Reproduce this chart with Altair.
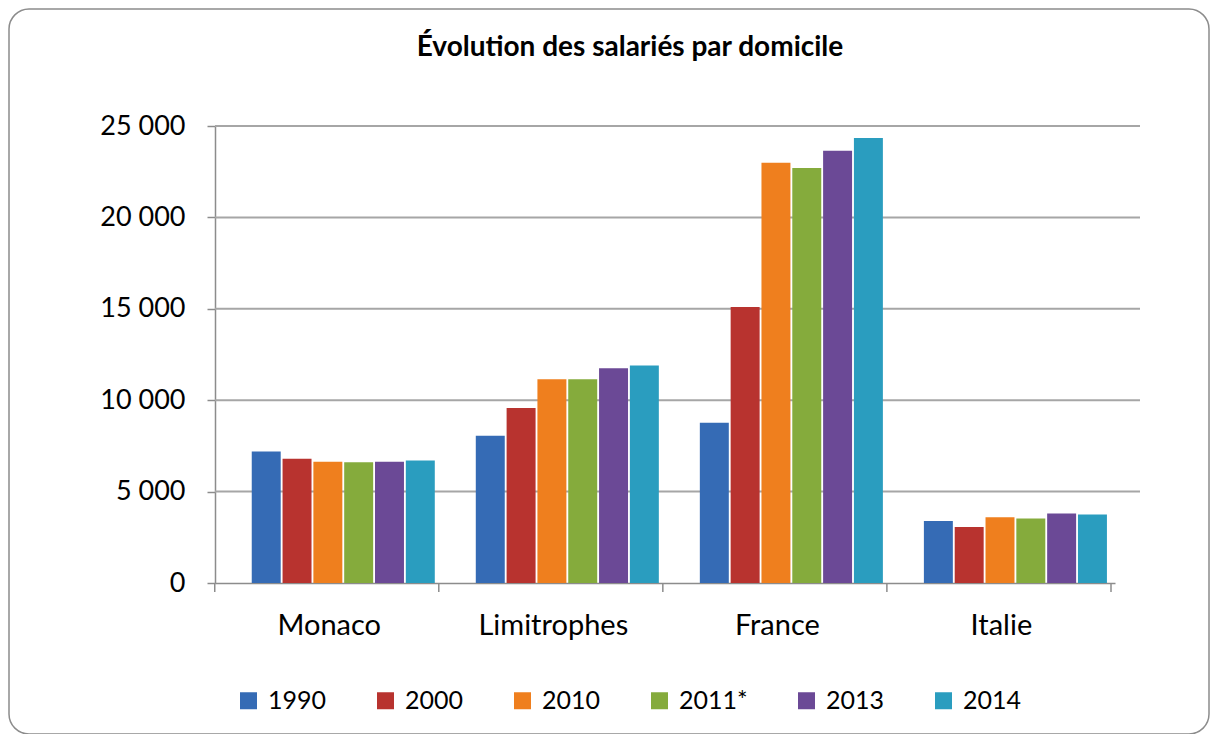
import altair as alt
import pandas as pd

categories = ["Monaco", "Limitrophes", "France", "Italie"]
years = ["1990", "2000", "2010", "2011*", "2013", "2014"]
v1990 = [7200, 8050, 8770, 3390]
v2000 = [6800, 9570, 15100, 3060]
v2010 = [6630, 11140, 22990, 3600]
v2011 = [6600, 11150, 22700, 3530]
v2013 = [6630, 11750, 23640, 3800]
v2014 = [6700, 11900, 24350, 3750]
series = [v1990, v2000, v2010, v2011, v2013, v2014]
colors = ["#356bb5", "#b8332f", "#ef7f1e", "#85ab3c", "#6b4996", "#2a9dbf"]
grid_values = [5000, 10000, 15000, 20000, 25000]
title_text = "Évolution des salariés par domicile"

rows = []
for y, vals in zip(years, series):
    for c, v in zip(categories, vals):
        rows.append({"cat": c, "year": y, "value": v})
df = pd.DataFrame(rows)

W, H = 900, 457
FONT = "Lato"
GRAY = "#8c8c8c"

border = alt.Chart(alt.Data(values=[{}])).mark_rect(
    fill=None, stroke=GRAY, strokeWidth=1.5, cornerRadius=20
).encode(x=alt.value(-206), x2=alt.value(994), y=alt.value(-117), y2=alt.value(608))

title = alt.Chart(alt.Data(values=[{"t": title_text}])).mark_text(
    font=FONT, fontSize=28, fontWeight="bold", color="black", align="center", baseline="alphabetic"
).encode(text="t:N", x=alt.value(415), y=alt.value(-70))

grid = alt.Chart(pd.DataFrame({"g": grid_values})).mark_rule(
    color="#a6a6a6", strokeWidth=2
).encode(y=alt.Y("g:Q", scale=alt.Scale(domain=[0, 25000])), x=alt.value(0), x2=alt.value(925))

bars = alt.Chart(df).mark_bar().encode(
    x=alt.X("cat:N", sort=categories,
            scale=alt.Scale(paddingInner=0.183, paddingOuter=0.1, align=0.82),
            axis=alt.Axis(title=None, labelFontSize=29, labelFont=FONT, labelColor="black",
                          labelAngle=0, ticks=False, labelPadding=28, labelOffset=-14,
                          domainColor=GRAY, domainWidth=1.5)),
    xOffset=alt.XOffset("year:N", sort=years, scale=alt.Scale(paddingInner=0.06)),
    y=alt.Y("value:Q", scale=alt.Scale(domain=[0, 25000]),
            axis=alt.Axis(title=None, values=[0, 5000, 10000, 15000, 20000, 25000], grid=False,
                          labelExpr="replace(format(datum.value, ','), ',', ' ')",
                          labelFontSize=27, labelFont=FONT, labelColor="black",
                          tickSize=8, tickColor=GRAY, tickWidth=1.5,
                          domainColor=GRAY, domainWidth=1.5, labelPadding=22)),
    color=alt.Color("year:N", sort=years, scale=alt.Scale(domain=years, range=colors),
                    legend=alt.Legend(title=None, orient="none", legendX=21, legendY=562,
                                      direction="horizontal", symbolType="square",
                                      symbolSize=289, symbolStrokeWidth=0,
                                      labelFontSize=25, labelFont=FONT, labelColor="black",
                                      columnPadding=46, labelOffset=7)),
)

ticks = alt.Chart(pd.DataFrame({"cat": categories})).mark_rule(
    color=GRAY, strokeWidth=1.5, xOffset=-37
).encode(x=alt.X("cat:N", sort=categories, bandPosition=0), y=alt.value(H), y2=alt.value(H + 9))

end_tick = alt.Chart(alt.Data(values=[{}])).mark_rule(color=GRAY, strokeWidth=1.5).encode(
    x=alt.value(W - 4), y=alt.value(H), y2=alt.value(H + 9))

chart = alt.layer(border, title, grid, bars, ticks, end_tick).properties(
    width=W, height=H,
    autosize=alt.AutoSizeParams(type="none"),
    padding={"left": 207, "top": 118, "right": 95, "bottom": 151},
).configure(background="white").configure_view(stroke="transparent", strokeWidth=0)

chart.save("out.html", embed_options={"renderer": "svg", "actions": False})
